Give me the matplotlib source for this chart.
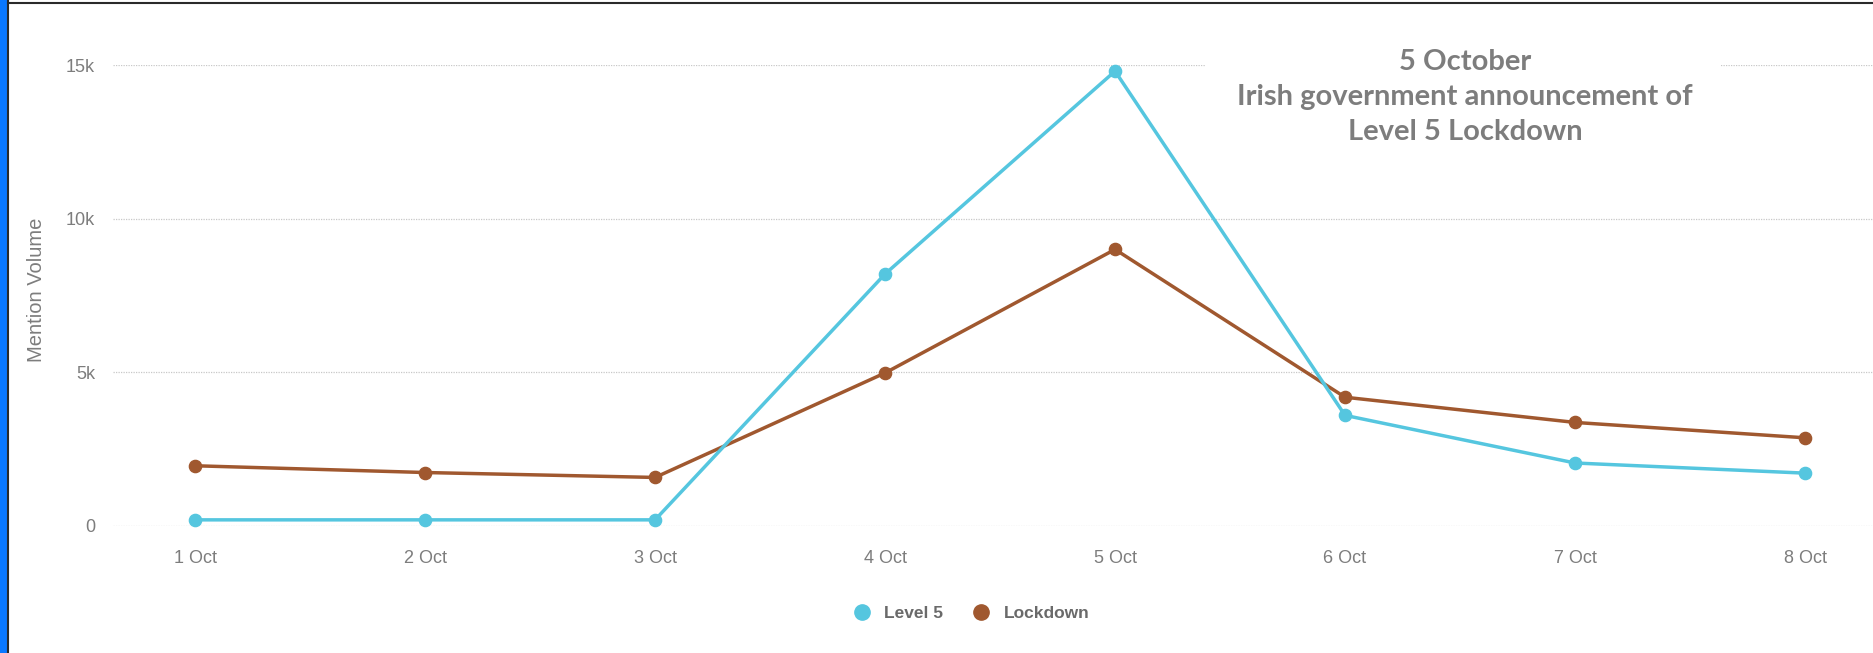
import matplotlib
matplotlib.use("Agg")
import matplotlib.pyplot as plt
from matplotlib.lines import Line2D
from matplotlib.patches import Rectangle

days = ["1 Oct", "2 Oct", "3 Oct", "4 Oct", "5 Oct", "6 Oct", "7 Oct", "8 Oct"]
level5 = [200, 200, 200, 8200, 14800, 3600, 2050, 1720]
lockdown = [1960, 1740, 1580, 4980, 9000, 4190, 3370, 2870]
y_ticks = [0, 5000, 10000, 15000]
y_tick_labels = ["0", "5k", "10k", "15k"]
series_names = ["Level 5", "Lockdown"]
note_lines = ["5 October", "Irish government announcement of", "Level 5 Lockdown"]

c_level5 = "#55c6df"
c_lock = "#a0582f"
c_text = "#7d7d7d"

W, H = 1874, 653
fig = plt.figure(figsize=(W / 100, H / 100), dpi=100)
fig.patch.set_facecolor("white")

# frame: blue strip on the left, thin dark rules on top and left
fig.add_artist(Rectangle((0, 0), 7 / W, 1, transform=fig.transFigure,
                         facecolor="#0a78ff", edgecolor="none"))
fig.add_artist(Line2D([8.5 / W, 8.5 / W], [0, 1], transform=fig.transFigure,
                      color="#2a2a2a", lw=1.5))
fig.add_artist(Line2D([8 / W, 1], [1 - 2.5 / H, 1 - 2.5 / H], transform=fig.transFigure,
                      color="#2a2a2a", lw=1.5))

ax_left = 113 / W
ax_bottom = 1 - 526 / H
ax_top = 1 - 65 / H
ax = fig.add_axes([ax_left, ax_bottom, 1 - ax_left, ax_top - ax_bottom])

x = list(range(len(days)))
ax.plot(x, level5, color=c_level5, lw=2.5, marker="o", ms=8.8, clip_on=False, zorder=4)
ax.plot(x, lockdown, color=c_lock, lw=2.5, marker="o", ms=8.8, clip_on=False, zorder=3)

ax.set_xlim(-0.357, 7.3)
ax.set_ylim(0, 15000)
ax.set_yticks(y_ticks)
ax.set_yticklabels(y_tick_labels)
ax.set_xticks(x)
ax.set_xticklabels(days)

for s in ax.spines.values():
    s.set_visible(False)
ax.grid(axis="y", color="#c8c8c8", lw=0.9, linestyle=(0, (1, 1)))
ax.set_axisbelow(True)
ax.tick_params(length=0, labelsize=13, labelcolor=c_text)
ax.tick_params(axis="x", pad=17)
ax.tick_params(axis="y", pad=13)
for lab in ax.get_xticklabels() + ax.get_yticklabels():
    lab.set_fontfamily("Liberation Sans")

fig.text(36 / W, 1 - 290 / H, "Mention Volume", rotation=90, ha="center", va="center",
         fontsize=14.5, color=c_text, family="Liberation Sans")

# white box behind the annotation text, breaking the top grid line
fig.add_artist(Rectangle((1205 / W, 1 - 160 / H), (1720 - 1205) / W, 120 / H,
                         transform=fig.transFigure, facecolor="white",
                         edgecolor="none", zorder=5))
for i, line in enumerate(note_lines):
    fig.text(1465 / W, 1 - (62 + 35 * i) / H, line, ha="center", va="center",
             fontsize=21, fontweight="bold", color=c_text, family="Lato", zorder=6)

handles = [Line2D([], [], color=c, marker="o", ls="none", ms=11)
           for c in (c_level5, c_lock)]
leg = fig.legend(handles, series_names, loc="center", bbox_to_anchor=(967 / W, 1 - 613 / H),
                 ncol=2, frameon=False, handletextpad=0.3, columnspacing=1.2,
                 prop={"family": "Liberation Sans", "weight": "bold", "size": 12.5})
for t in leg.get_texts():
    t.set_color("#6a6a6a")

fig.savefig("out.png", dpi=100, facecolor="white")
